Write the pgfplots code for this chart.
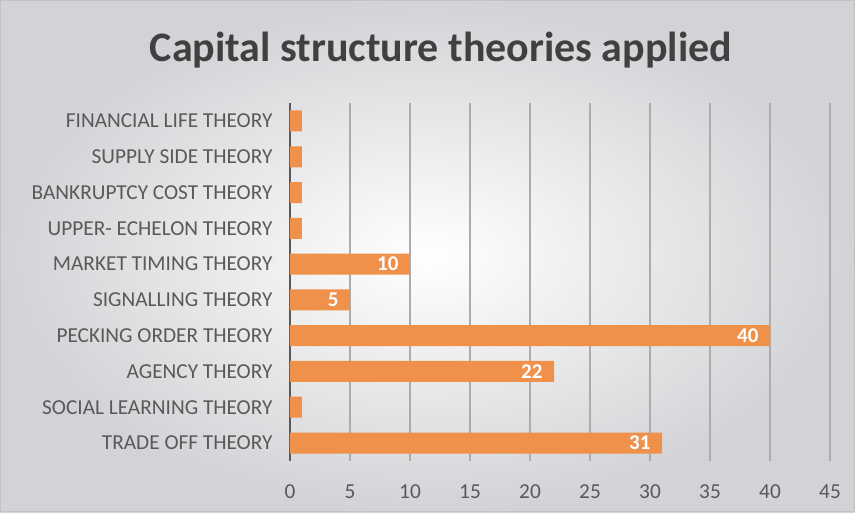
\documentclass[border=0pt]{standalone}
\usepackage{pgfplots}
\pgfplotsset{compat=1.18}
\usepackage{fontspec}
\setmainfont{Carlito}
\definecolor{barc}{RGB}{240,145,75}
\definecolor{txt}{RGB}{89,89,89}
\definecolor{ttl}{RGB}{64,64,64}
\definecolor{edge}{RGB}{210,211,214}
\begin{document}
\begin{tikzpicture}
\shade[inner color=white, outer color=edge] (0,0) rectangle (855pt,512pt);
\draw[edge!80!gray, line width=1pt] (0.5pt,0.5pt) rectangle (854.5pt,511.5pt);
\node[font=\fontsize{42}{48}\selectfont\bfseries, text=ttl] at (441pt,462pt) {Capital structure theories applied};
\begin{axis}[
  at={(290pt,51.1pt)}, anchor=south west,
  scale only axis, width=540pt, height=357.8pt,
  xmin=0, xmax=45, ymin=-0.5, ymax=9.5,
  xtick={0,5,...,45},
  ytick={0,...,9},
  yticklabels={TRADE OFF THEORY, SOCIAL LEARNING THEORY, AGENCY THEORY, PECKING ORDER THEORY, SIGNALLING THEORY, MARKET TIMING THEORY, UPPER- ECHELON THEORY, BANKRUPTCY COST THEORY, SUPPLY SIDE THEORY, FINANCIAL LIFE THEORY},
  xmajorgrids, major grid style={draw=gray!65, line width=1.3pt},
  major tick length=0pt,
  axis x line*=bottom, axis y line*=left,
  x axis line style={draw=none},
  y axis line style={draw=txt, line width=2.5pt},
  tick label style={font=\fontsize{21.3}{24}\selectfont, text=txt},
  xticklabel style={yshift=-20pt},
  yticklabel style={xshift=-14pt},
  /pgf/number format/assume math mode=true,
  xbar, bar width=21pt, bar shift=0pt,
  clip=false,
]
\addplot[fill=barc, draw=none] coordinates {(1,1) (1,6) (1,7) (1,8) (1,9)};
\addplot[fill=barc, draw=none,
  nodes near coords,
  nodes near coords align={anchor=east},
  every node near coord/.append style={anchor=east, xshift=-8pt, text=white, font=\fontsize{21}{24}\selectfont\bfseries},
  /pgf/number format/assume math mode=true]
  coordinates {(31,0) (22,2) (40,3) (5,4) (10,5)};
\end{axis}
\end{tikzpicture}
\end{document}
